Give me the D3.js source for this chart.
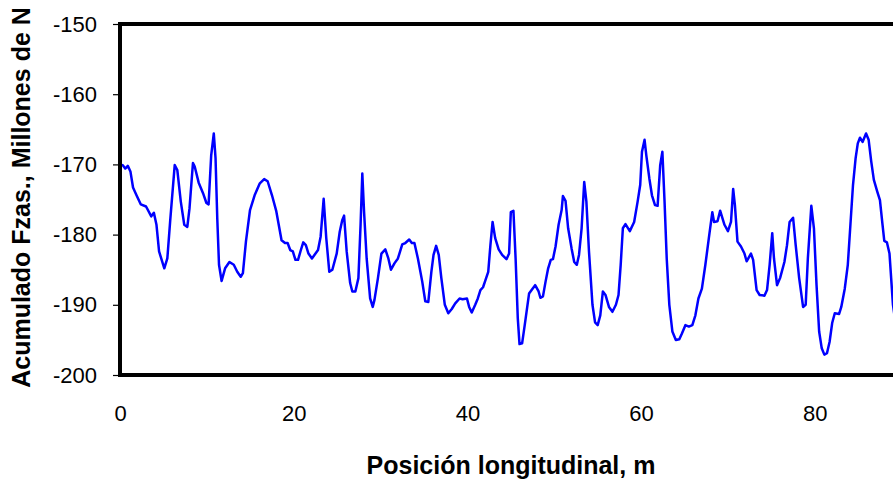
<!DOCTYPE html>
<html>
<head>
<meta charset="utf-8">
<script src="https://cdn.jsdelivr.net/npm/d3@7"></script>
<style>
  body { margin: 0; background: #fff; overflow: hidden; }
  text { font-family: "Liberation Sans", Arial, sans-serif; }
</style>
</head>
<body>
<div id="chart"></div>
<script>
// Posición longitudinal (m)
const posicion = [
  0, 0.3, 0.6, 0.9, 1.2, 1.5, 1.9, 2.4, 3.0, 3.6, 3.9, 4.2, 4.5, 5.1, 5.45, 5.8, 6.3, 6.6, 7.0, 7.4,
  7.75, 8.0, 8.4, 8.6, 9.06, 9.56, 9.95, 10.2, 10.5, 10.8, 11.0, 11.2, 11.4, 11.7, 12.1, 12.6, 13.1, 13.5, 13.9, 14.15,
  14.5, 14.97, 15.5, 16.1, 16.6, 17.0, 17.5, 18.0, 18.6, 19.0, 19.3, 19.6, 19.9, 20.2, 20.5, 20.8, 21.1, 21.4, 21.7, 22.1,
  22.45, 22.8, 23.1, 23.45, 23.75, 24.1, 24.45, 24.95, 25.3, 25.6, 25.8, 26.1, 26.5, 26.75, 27.1, 27.45, 27.7, 27.9, 28.1, 28.4,
  28.8, 29.1, 29.3, 29.7, 30.1, 30.55, 30.9, 31.2, 31.6, 32.0, 32.5, 32.85, 33.3, 33.6, 33.9, 34.3, 34.8, 35.15, 35.5, 35.85,
  36.1, 36.4, 36.7, 37.0, 37.4, 37.8, 38.2, 38.6, 39.1, 39.45, 39.95, 40.2, 40.5, 40.9, 41.2, 41.5, 41.8, 42.05, 42.4, 42.65,
  42.9, 43.2, 43.6, 44.0, 44.5, 44.8, 45.0, 45.3, 45.55, 45.8, 46.0, 46.3, 46.6, 47.1, 47.5, 47.8, 48.2, 48.4, 48.7, 49.0,
  49.3, 49.6, 49.85, 50.15, 50.5, 50.85, 51.0, 51.3, 51.6, 52.0, 52.3, 52.6, 52.85, 53.15, 53.45, 53.7, 54.0, 54.4, 54.7, 55.0,
  55.3, 55.6, 55.9, 56.3, 56.7, 57.1, 57.4, 57.65, 57.9, 58.2, 58.7, 59.2, 59.6, 59.9, 60.1, 60.4, 60.6, 60.95, 61.25, 61.6,
  61.9, 62.2, 62.45, 62.7, 62.95, 63.25, 63.6, 64.0, 64.4, 64.7, 65.1, 65.5, 65.9, 66.25, 66.6, 67.0, 67.4, 67.8, 68.2, 68.4,
  68.8, 69.1, 69.6, 70.0, 70.35, 70.6, 70.8, 71.1, 71.5, 71.9, 72.15, 72.65, 72.9, 73.3, 73.65, 74.2, 74.5, 74.8, 75.1, 75.3,
  75.65, 76.0, 76.5, 76.8, 77.1, 77.5, 77.8, 78.2, 78.65, 78.95, 79.2, 79.6, 79.9, 80.2, 80.5, 80.8, 81.1, 81.4, 81.7, 82.0,
  82.3, 82.8, 83.05, 83.45, 83.8, 84.1, 84.4, 84.7, 84.95, 85.2, 85.5, 85.7, 85.9, 86.2, 86.5, 86.8, 87.2, 87.5, 87.8, 88.0,
  88.3, 88.6, 89.0, 89.4
];

// Acumulado Fzas. (Millones de N)
const acumulado = [
  -170.0, -170.1, -170.6, -170.2, -171.0, -173.3, -174.4, -175.7, -176.0, -177.4, -176.9, -178.6, -182.4, -184.8, -183.4, -177.7, -170.1, -170.8, -175.3, -178.6,
  -178.9, -176.3, -169.8, -170.3, -172.6, -174.1, -175.5, -175.7, -168.7, -165.6, -169.1, -177.7, -184.3, -186.6, -184.8, -183.9, -184.3, -185.3, -186.0, -185.5,
  -181.0, -176.5, -174.4, -172.7, -172.1, -172.4, -174.4, -176.7, -180.8, -181.2, -181.2, -182.2, -182.4, -183.6, -183.6, -182.3, -181.1, -181.5, -182.7, -183.4,
  -182.8, -182.2, -180.3, -174.9, -180.5, -185.3, -185.0, -182.7, -179.6, -177.9, -177.3, -182.4, -186.9, -188.1, -188.1, -186.2, -178.6, -171.3, -176.7, -183.4,
  -189.1, -190.3, -189.3, -186.2, -182.7, -182.1, -183.4, -185.0, -184.1, -183.4, -181.4, -181.2, -180.7, -181.2, -181.2, -183.4, -186.7, -189.5, -189.6, -185.3,
  -182.9, -181.6, -182.9, -186.2, -190.0, -191.2, -190.6, -189.8, -189.1, -189.2, -189.1, -190.3, -191.1, -190.0, -189.1, -187.9, -187.5, -186.6, -185.3, -181.5,
  -178.2, -180.5, -182.1, -182.9, -183.5, -182.7, -176.8, -176.6, -183.4, -191.9, -195.6, -195.5, -192.9, -188.4, -187.7, -187.2, -188.1, -189.0, -188.8, -186.7,
  -184.8, -183.6, -183.5, -181.7, -178.6, -176.5, -174.5, -175.2, -179.1, -182.0, -183.9, -184.3, -182.9, -179.1, -172.5, -175.3, -182.4, -190.0, -192.5, -192.9,
  -191.5, -188.1, -188.6, -190.3, -191.0, -190.0, -188.6, -184.3, -179.1, -178.5, -179.5, -178.2, -175.3, -172.9, -168.2, -166.5, -168.7, -172.0, -174.4, -175.8,
  -175.9, -170.1, -168.2, -175.3, -183.4, -190.0, -193.8, -195.0, -194.9, -194.1, -192.9, -193.1, -192.9, -191.5, -189.1, -187.7, -184.3, -180.5, -176.8, -178.2,
  -178.1, -176.6, -178.6, -179.5, -178.2, -173.5, -175.8, -181.0, -181.7, -182.7, -183.8, -182.7, -183.6, -187.9, -188.6, -188.7, -187.9, -184.3, -179.8, -183.4,
  -187.2, -186.2, -183.9, -181.5, -178.2, -177.6, -181.5, -186.2, -190.3, -190.0, -183.4, -175.9, -179.1, -187.2, -193.8, -196.2, -197.1, -196.9, -195.3, -192.6,
  -191.2, -191.3, -190.3, -187.7, -184.3, -178.6, -172.9, -169.1, -167.0, -166.2, -166.8, -166.2, -165.6, -166.5, -169.6, -172.2, -173.9, -175.1, -178.6, -180.9,
  -181.1, -182.7, -190.0, -193.5
];

const xTicks = [0, 20, 40, 60, 80];
const yTicks = [-150, -160, -170, -180, -190, -200];

const width = 893, height = 479;
const margin = { top: 24, left: 120, bottom: 104 };
const plotW = 868.5; // x axis runs to 100 m, beyond the window
const plotH = height - margin.top - margin.bottom;

const data = posicion.map((p, i) => ({ x: p, y: acumulado[i] }));

const svg = d3.select("#chart").append("svg")
    .attr("width", width)
    .attr("height", height);

const xScale = d3.scaleLinear().domain([0, 100]).range([0, plotW]);
const yScale = d3.scaleLinear().domain([-200, -150]).range([plotH, 0]);

const g = svg.append("g")
    .attr("transform", `translate(${margin.left},${margin.top})`);

svg.append("clipPath").attr("id", "clip")
  .append("rect").attr("x", 0).attr("y", 0).attr("width", plotW).attr("height", plotH);

const fmt = d => String(d); // plain hyphen for negatives

// y axis
const yAxis = d3.axisLeft(yScale).tickValues(yTicks).tickFormat(fmt)
    .tickSize(7).tickPadding(16).tickSizeOuter(0);
const yg = g.append("g").call(yAxis);
yg.select(".domain").remove();
yg.selectAll("line").attr("stroke", "#000").attr("stroke-width", 1.2);
yg.selectAll("text").attr("font-size", 22).attr("fill", "#000")
    .style("font-family", "'Liberation Sans', Arial, sans-serif");

// x axis (labels only)
const xAxis = d3.axisBottom(xScale).tickValues(xTicks).tickFormat(fmt)
    .tickSize(0).tickPadding(30);
const xg = g.append("g").attr("transform", `translate(0,${plotH})`).call(xAxis);
xg.select(".domain").remove();
xg.selectAll("text").attr("font-size", 22).attr("fill", "#000")
    .style("font-family", "'Liberation Sans', Arial, sans-serif");

// data line
g.append("path")
    .datum(data)
    .attr("clip-path", "url(#clip)")
    .attr("fill", "none")
    .attr("stroke", "#0000ff")
    .attr("stroke-width", 2.5)
    .attr("stroke-linejoin", "round")
    .attr("d", d3.line().x(d => xScale(d.x)).y(d => yScale(d.y)));

// plot frame
g.append("rect")
    .attr("x", 0).attr("y", 0)
    .attr("width", plotW).attr("height", plotH)
    .attr("fill", "none")
    .attr("stroke", "#000")
    .attr("stroke-width", 4);

// axis titles
svg.append("text")
    .attr("x", 511).attr("y", 474)
    .attr("text-anchor", "middle")
    .attr("font-size", 25).attr("font-weight", "bold")
    .text("Posición longitudinal, m");

svg.append("text")
    .attr("transform", `translate(30,${margin.top + plotH / 2 - 2}) rotate(-90)`)
    .attr("text-anchor", "middle")
    .attr("font-size", 25).attr("font-weight", "bold")
    .text("Acumulado Fzas., Millones de N");
</script>
</body>
</html>
